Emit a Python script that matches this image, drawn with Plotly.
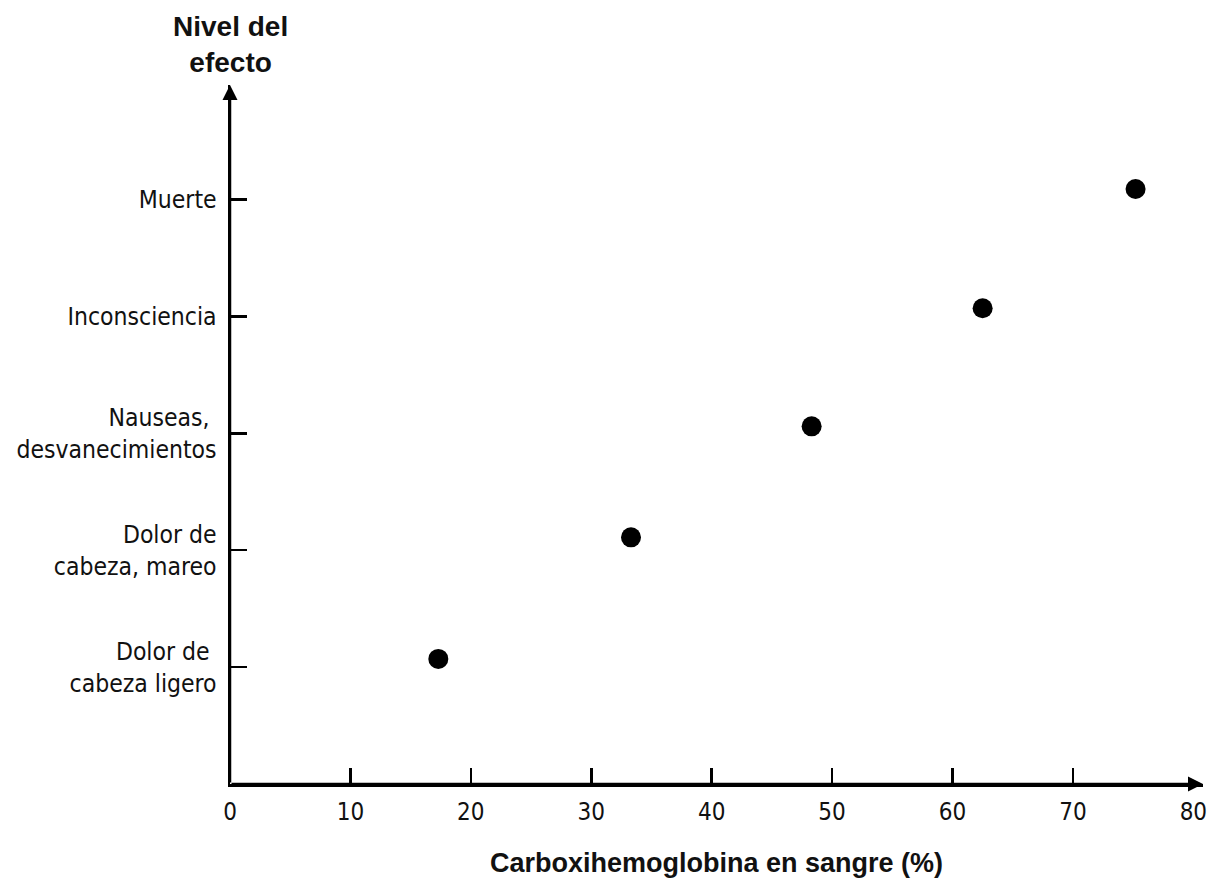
import plotly.graph_objects as go

# Data
carboxi_pct = [17.3, 33.3, 48.3, 62.5, 75.2]
effect_level = [1.07, 2.11, 3.06, 4.07, 5.09]

level_vals = [1, 2, 3, 4, 5]
level_labels = [
    "Dolor de <br>cabeza ligero",
    "Dolor de<br>cabeza, mareo",
    "Nauseas, <br>desvanecimientos",
    "Inconsciencia",
    "Muerte",
]
x_tick_vals = [0, 10, 20, 30, 40, 50, 60, 70, 80]
x_tick_text = [str(v) for v in x_tick_vals]
x_minor_ticks = [10, 20, 30, 40, 50, 60, 70]

X_MAX = 80.8
Y_MAX = 5.98

FONT = "Liberation Sans, Arial, sans-serif"
NARROW = "DejaVu Sans Condensed, Liberation Sans Narrow, sans-serif"

fig = go.Figure()
fig.add_trace(go.Scatter(
    x=carboxi_pct, y=effect_level, mode="markers",
    marker=dict(size=20, color="black"),
    showlegend=False, hoverinfo="skip",
))

fig.update_layout(
    width=1209, height=880,
    margin=dict(l=230, r=6, t=85, b=96),
    paper_bgcolor="white", plot_bgcolor="white",
    font=dict(family=NARROW, color="#111111", size=24),
    xaxis=dict(
        range=[0, X_MAX], showgrid=False, zeroline=False, automargin=False,
        showline=True, linecolor="black", linewidth=2.5,
        tickvals=x_tick_vals, ticktext=x_tick_text, ticks="",
        ticklabelstandoff=5,
        tickfont=dict(family=NARROW, size=24, color="#111111"),
        minor=dict(tickvals=x_minor_ticks, ticks="inside", ticklen=16,
                   tickwidth=2.5, tickcolor="black", showgrid=False),
    ),
    yaxis=dict(
        range=[0, Y_MAX], showgrid=False, zeroline=False, automargin=False,
        showline=True, linecolor="black", linewidth=2.5,
        tickvals=level_vals, ticktext=level_labels,
        ticks="inside", ticklen=17, tickwidth=2.5, tickcolor="black",
        ticklabelstandoff=6,
        tickfont=dict(family=NARROW, size=24.5, color="#111111"),
    ),
)

# axis arrows
fig.add_annotation(x=X_MAX, y=0, ax=0, ay=0, xref="x", yref="y",
                   axref="x", ayref="y", text="", showarrow=True,
                   arrowhead=2, arrowsize=1.2, arrowwidth=2.5,
                   arrowcolor="black", standoff=0)
fig.add_annotation(x=0, y=Y_MAX, ax=0, ay=0, xref="x", yref="y",
                   axref="x", ayref="y", text="", showarrow=True,
                   arrowhead=2, arrowsize=1.2, arrowwidth=2.5,
                   arrowcolor="black", standoff=0)

# axis titles
fig.add_annotation(x=0, y=1, xref="x", yref="paper", yanchor="bottom",
                   xanchor="center", yshift=5, showarrow=False,
                   text="<b>Nivel del<br>efecto</b>",
                   font=dict(family=FONT, size=28, color="#111111"))
fig.add_annotation(x=0.5, y=0, xref="paper", yref="paper", yanchor="top",
                   xanchor="center", yshift=-62, showarrow=False,
                   text="<b>Carboxihemoglobina en sangre (%)</b>",
                   font=dict(family=FONT, size=27, color="#111111"))

fig.write_html(
    "out.html",
    config={"displayModeBar": False, "staticPlot": True},
    post_script="document.body.style.margin='0';"
                "document.body.style.overflow='hidden';",
)
